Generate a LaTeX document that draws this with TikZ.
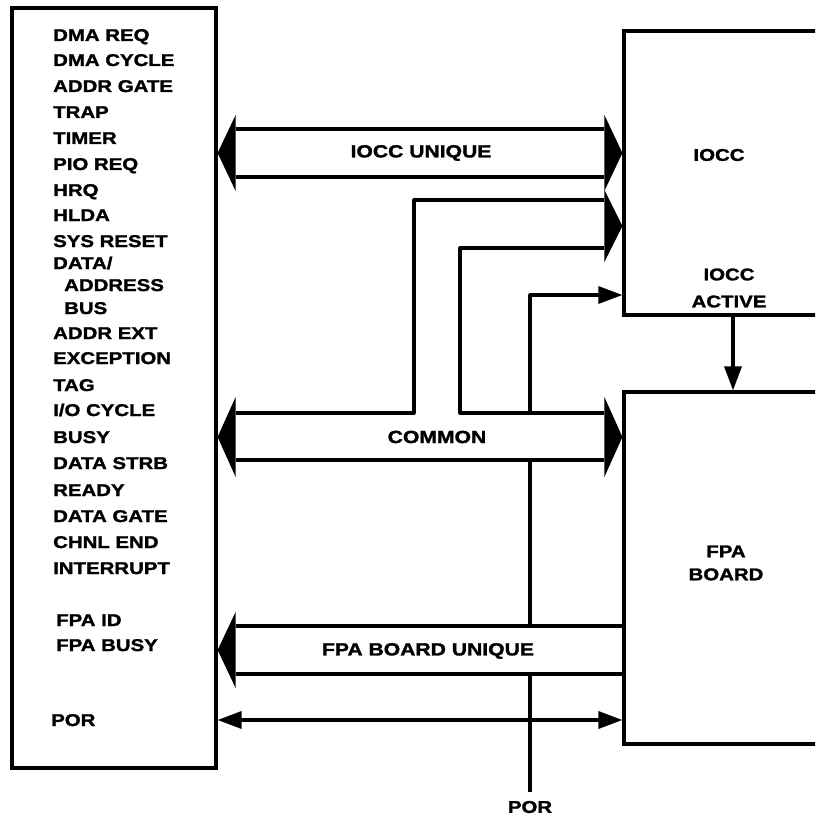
\documentclass[tikz,border=0pt]{standalone}
\usepackage{fontspec}
\setmainfont{Liberation Sans}
\newfontfamily\sigfam{Liberation Sans Bold}[FakeStretch=1.2,FakeBold=1.6]
\usetikzlibrary{arrows.meta}
\newcommand{\sigfont}{\sigfam\fontsize{17}{20}\selectfont}
\newcommand{\busfont}{\sigfam\fontsize{17.6}{21}\selectfont}
\newcommand{\bushead}[3]{\fill (#1) -- ++(#2,-#3) -- ++(0,2*#3) -- cycle;}

\begin{document}
\begin{tikzpicture}[x=1pt,y=-1pt,
  box/.style={draw,line width=3.2pt,inner sep=0pt},
  sig/.style={line width=3.2pt,line join=round},
  bus/.style={sig,shorten <=18pt,shorten >=18pt},
  lbl/.style={font=\sigfont,inner sep=0pt,align=center},
  tip/.style={-{Triangle[length=24pt,width=17pt]}}]
  \useasboundingbox (0,0) rectangle (815,821);
  \clip (0,0) rectangle (815,821);
  % blocks
  \node[box,minimum width=204pt,minimum height=760pt] (cpu) at (114,388) {};
  \node[box,minimum width=216pt,minimum height=284pt] (iocc) at (732,173) {};
  \node[box,minimum width=216pt,minimum height=352pt] (fpa) at (732,568) {};
  \foreach \xx/\yy/\txt in {53/41/DMA REQ,53/66/DMA CYCLE,53/92/ADDR GATE,53/118/TRAP,
      53/144/TIMER,53/170/PIO REQ,53/196/HRQ,53/221/HLDA,53/247/SYS RESET,53/269/{DATA/},
      64/291/ADDRESS,64/314/BUS,53/339/ADDR EXT,53/364/EXCEPTION,53/391/TAG,
      53/416/{I/O CYCLE},53/443/BUSY,53/469/DATA STRB,53/496/READY,53/522/DATA GATE,
      53/548/CHNL END,53/574/INTERRUPT,56/626/FPA ID,56/651/FPA BUSY,51/726/POR}
    \node[lbl,anchor=base west] (s\yy) at (\xx,\yy) {\txt};
  \node[lbl] (ioccl) at (719,155) {IOCC};
  \node[lbl] (actl) at (729,288) {IOCC\\[7pt]ACTIVE};
  \node[lbl] (fpal) at (726,563) {FPA\\[3pt]BOARD};
  % POR in, runs under the buses
  \node[lbl] (por) at (530,807) {POR};
  \draw[sig,tip] ([yshift=9pt]por.north) |- (iocc.west |- 0,295);
  \fill[white] (cpu.east |- 0,413) rectangle (fpa.west |- 0,460);
  \fill[white] (cpu.east |- 0,626) rectangle (fpa.west |- 0,674);
  % IOCC unique
  \draw[bus] (cpu.east |- 0,129) -- (iocc.west |- 0,129);
  \draw[bus] (cpu.east |- 0,177) -- (iocc.west |- 0,177);
  \bushead{cpu.east |- 0,153}{18}{38}
  \bushead{iocc.west |- 0,153}{-18}{38}
  \node[lbl,font=\busfont] (uniq) at (421,153) {IOCC UNIQUE};
  % common
  \draw[bus] (iocc.west |- 0,200) -- (414,200) -- (414,413) -- (cpu.east |- 0,413);
  \draw[bus] (iocc.west |- 0,248) -- (460,248) -- (460,413) -- (fpa.west |- 0,413);
  \draw[bus] (cpu.east |- 0,460) -- (fpa.west |- 0,460);
  \bushead{iocc.west |- 0,226}{-18}{36}
  \bushead{cpu.east |- 0,437}{18}{40}
  \bushead{fpa.west |- 0,437}{-18}{40}
  \node[lbl,font=\busfont] (comm) at (437,437) {COMMON};
  % FPA board unique
  \draw[sig,shorten <=18pt] (cpu.east |- 0,626) -- (fpa.west |- 0,626);
  \draw[sig,shorten <=18pt] (cpu.east |- 0,674) -- (fpa.west |- 0,674);
  \bushead{cpu.east |- 0,650}{18}{38}
  \node[lbl,font=\busfont] (fpauq) at (428,651) {FPA BOARD UNIQUE};
  % POR
  \draw[sig,{Triangle[length=24pt,width=17pt]}-{Triangle[length=24pt,width=17pt]}]
    (cpu.east |- 0,720) -- (fpa.west |- 0,720);
  \draw[sig,tip] (iocc.south -| 733,0) -- (fpa.north -| 733,0);
\end{tikzpicture}
\end{document}
